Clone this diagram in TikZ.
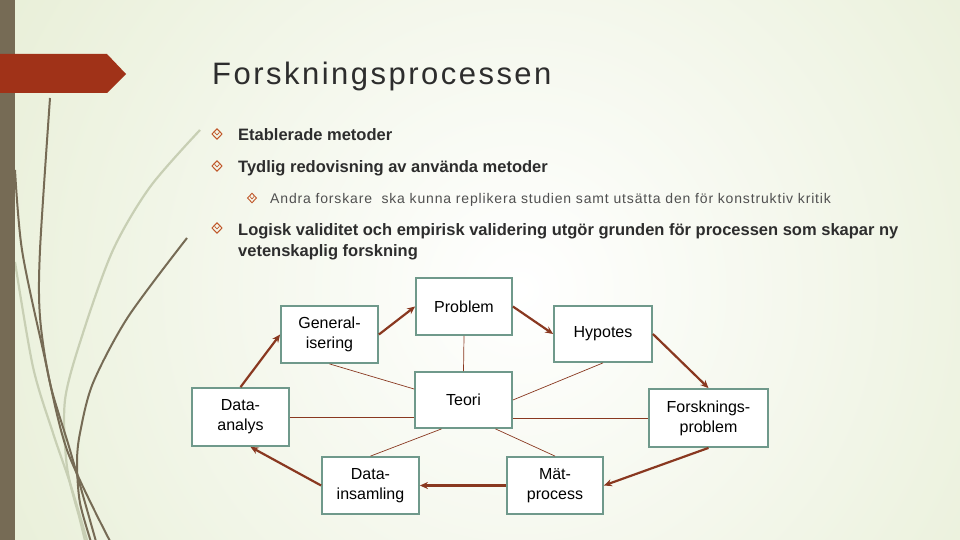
\documentclass[tikz,border=0pt]{standalone}
\usepackage{fontspec}
\setmainfont{Liberation Sans}
\newfontfamily\titlefont[LetterSpace=8]{Liberation Sans}
\newfontfamily\subfont[LetterSpace=6]{Liberation Sans}
\usetikzlibrary{arrows.meta,calc}
\definecolor{bggreen}{RGB}{221,231,196}
\definecolor{stripcol}{RGB}{118,107,85}
\definecolor{bannercol}{RGB}{160,50,24}
\definecolor{curvecol}{RGB}{118,107,85}
\definecolor{palecurve}{RGB}{200,207,180}
\definecolor{boxcol}{RGB}{111,153,139}
\definecolor{arrcol}{RGB}{137,56,32}
\definecolor{bulcol}{RGB}{192,88,42}
\definecolor{txtcol}{RGB}{45,45,45}
\definecolor{subcol}{RGB}{80,80,80}
\tikzset{
  box/.style={draw=boxcol, line width=1.8pt, fill=white, inner sep=0pt, align=center,
    font=\fontsize{16}{20}\selectfont, text=black},
  flow/.style={draw=arrcol, line width=2.2pt, -{Stealth[length=8pt,width=7pt]}},
  link/.style={draw=arrcol, line width=0.7pt},
  deco/.style={draw=curvecol, line width=2pt},
  decopale/.style={draw=palecurve, line width=2.2pt},
  bul/.pic={\draw[bulcol, line width=1pt] (-5,0)--(0,-5.2)--(5,0)--(0,5.2)--cycle;
            \draw[bulcol, line width=0.8pt] (-2.4,-1.6)--(0,0.9)--(2.4,-1.6);},
  subbul/.pic={\draw[bulcol, line width=0.9pt] (-4.5,0)--(0,-4.7)--(4.5,0)--(0,4.7)--cycle;
            \draw[bulcol, line width=0.7pt] (-2.1,-1.4)--(0,0.8)--(2.1,-1.4);},
  lvlone/.style={anchor=base west, inner sep=0pt, text=txtcol, font=\bfseries\fontsize{16.5}{20}\selectfont},
  lvltwo/.style={anchor=base west, inner sep=0pt, text=subcol, font=\subfont\fontsize{14}{17}\selectfont}
}
\begin{document}
\begin{tikzpicture}[x=1pt,y=-1pt]
\useasboundingbox (0,0) rectangle (960,540);
% background
\begin{scope}
\clip (0,0) rectangle (960,540);
\fill[bggreen] (0,0) rectangle (960,540);
\shade[inner color=white, outer color=bggreen] (-380,-610) rectangle (1420,1190);
% decorative curves
\draw[decopale] plot[smooth] coordinates {(200,130) (150,187) (113,250) (83,333) (65,400) (67,467) (80,520) (86,545)};
\draw[decopale] plot[smooth] coordinates {(15,262) (33,367) (53,433) (70,483) (87,540)};
\draw[deco] plot[smooth] coordinates {(50,98) (40,250) (40,317) (50,383) (70,450) (97,545)};
\draw[deco] plot[smooth] coordinates {(15,170) (22,250) (43,350) (67,450) (112,545)};
\draw[deco] plot[smooth] coordinates {(187,238) (128,317) (93,383) (80,433) (77,463) (80,503) (92,545)};
\fill[stripcol] (0,0) rectangle (15,540);
\fill[bannercol] (0,54) -- (107,54) -- (126,74) -- (107,93) -- (0,93) -- cycle;
\end{scope}
% title
\node[anchor=base west, inner sep=0pt, text=txtcol, font=\titlefont\fontsize{31}{36}\selectfont] (title) at (212,85) {Forskningsprocessen};
% bullets
\pic at (217,134) {bul};
\node[lvlone] (b1) at (238,141) {Etablerade metoder};
\pic at (217,166) {bul};
\node[lvlone] (b2) at (238,173) {Tydlig redovisning av använda metoder};
\pic at (252,198) {subbul};
\node[lvltwo] (b21) at (270,204) {Andra forskare\ \ ska kunna replikera studien samt utsätta den för konstruktiv kritik};
\pic at (217,228) {bul};
\node[lvlone] (b3) at (238,235) {Logisk validitet och empirisk validering utgör grunden för processen som skapar ny};
\node[lvlone] (b3b) at (238,256) {vetenskaplig forskning};
% diagram boxes
\node[box, minimum width=96pt, minimum height=57pt] (problem) at (464,306.5) {Problem};
\node[box, minimum width=97pt, minimum height=56pt] (teori) at (463.5,400) {Teori};
\node[box, minimum width=97pt, minimum height=57pt] (general) at (329.5,334.5) {General-\\isering};
\node[box, minimum width=97pt, minimum height=58pt] (analys) at (240.5,417) {Data-\\analys};
\node[box, minimum width=97pt, minimum height=57pt] (insamling) at (370.5,485.5) {Data-\\insamling};
\node[box, minimum width=98pt, minimum height=56pt] (hypotes) at (603,334) {Hypotes};
\node[box, minimum width=119pt, minimum height=58pt] (forsk) at (708.5,418) {Forsknings-\\problem};
\node[box, minimum width=96pt, minimum height=57pt] (mat) at (555,485.5) {Mät-\\process};
% thin links
\draw[link] (problem.south) -- (teori.north);
\draw[link] (general.south) -- ([yshift=11pt]teori.west);
\draw[link] (analys.east) -- (analys.east -| teori.west);
\draw[link] ([xshift=-22pt]teori.south) -- (insamling.north);
\draw[link] (hypotes.south) -- (teori.east);
\draw[link] ([yshift=-18pt]teori.east) -- (forsk.west);
\draw[link] ([xshift=32pt]teori.south) -- (mat.north);
% flow arrows
\draw[flow] (analys.north) -- (general.west);
\draw[flow] (general.east) -- (problem.west);
\draw[flow] (problem.east) -- (hypotes.west);
\draw[flow] (hypotes.east) -- (forsk.north);
\draw[flow] (forsk.south) -- (mat.east);
\draw[flow] (mat.west) -- (insamling.east);
\draw[flow] (insamling.west) -- ([xshift=10pt]analys.south);
\end{tikzpicture}
\end{document}
